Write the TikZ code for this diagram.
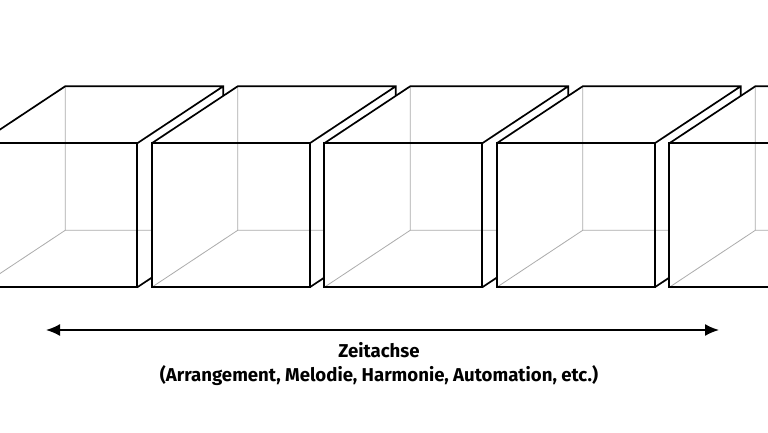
\documentclass[tikz,border=0pt]{standalone}
\usepackage{fontspec}
\setmainfont{Fira Sans}
\usetikzlibrary{arrows.meta}
\tikzset{%
    edge/.style={line width=1.7pt,line join=miter},
    hidden/.style={line width=0.8pt,color=gray!65},
    timeline/.style={{Latex[length=14pt,width=12pt]}-{Latex[length=14pt,width=12pt]},line width=1.7pt},
    caption/.style={anchor=base,inner sep=0pt,font=\bfseries\fontsize{18.6}{22}\selectfont},
}

\begin{document}
\begin{tikzpicture}[x=1pt,y=-1pt]
    \useasboundingbox (0,0) rectangle (768,432);
    \clip (0,0) rectangle (768,432);

    % cubes, left to right, each one hiding the one before
    \foreach \x in {-20.8,151.7,324.2,496.7,669.3} {
        \fill[white] (\x,287.3) -- (\x,143.3) -- ++(86,-57) -- ++(158,0) -- ++(0,144) -- (\x+158,287.3) -- cycle;
        \draw[hidden] (\x,287.3) -- ++(86,-57) coordinate (back) -- +(0,-144) (back) -- +(158,0);
        \draw[edge] (\x,143.3) rectangle ++(158,144);
        \draw[edge] (\x,143.3) -- ++(86,-57) -- ++(158,0) coordinate (corner) -- ++(0,144) -- (\x+158,287.3)
            (corner) -- (\x+158,143.3);
    }

    \coordinate (start) at (46,330);
    \coordinate (end) at (719,330);
    \draw[timeline] (start) -- (end);

    \node[caption] (title) at (379,357) {Zeitachse};
    \node[caption] (subtitle) at (379,381) {(Arrangement, Melodie, Harmonie, Automation, etc.)};
\end{tikzpicture}
\end{document}
